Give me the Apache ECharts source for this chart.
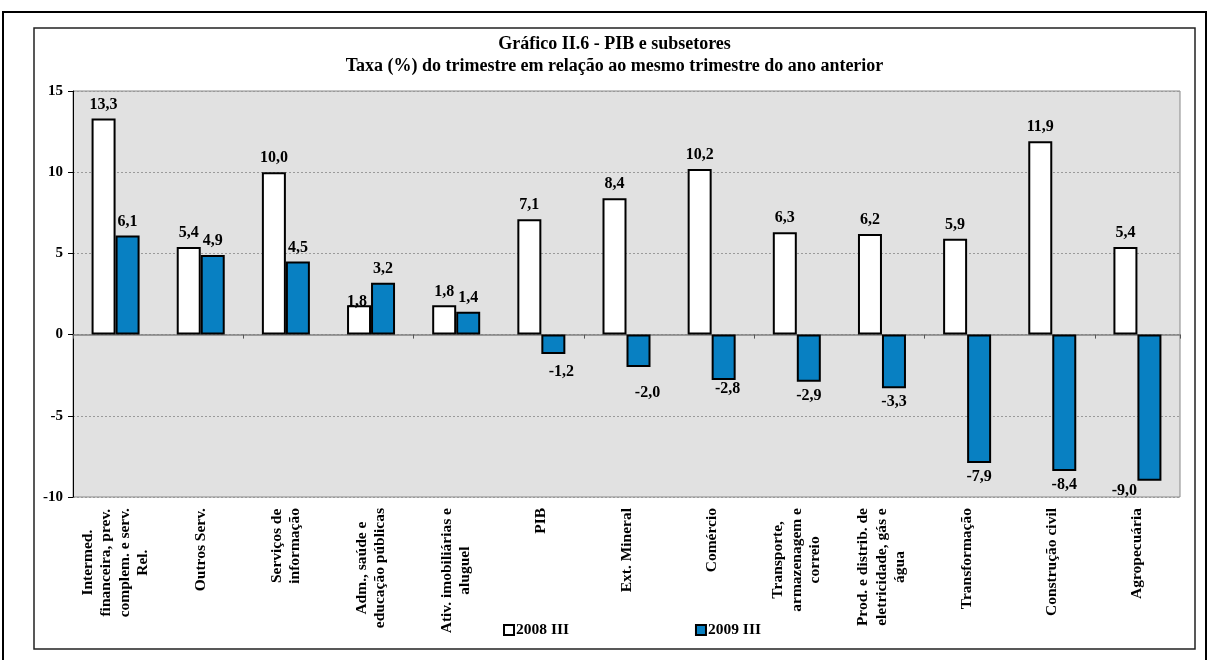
<!DOCTYPE html>
<html>
<head>
<meta charset="utf-8">
<script src="https://cdn.jsdelivr.net/npm/echarts@6/dist/echarts.min.js"></script>
<style>
  html, body { margin: 0; padding: 0; background: #ffffff; }
  #chart { width: 1210px; height: 660px; }
</style>
</head>
<body>
<div id="chart"></div>
<script>
// Sectors, in the order they are shown
const categories = [
  'Intermed.\nfinanceira, prev.\ncomplem. e serv.\nRel.',
  'Outros Serv.',
  'Serviços de\ninformação',
  'Adm., saúde e\neducação públicas',
  'Ativ. imobiliárias e\naluguel',
  'PIB',
  'Ext. Mineral',
  'Comércio',
  'Transporte,\narmazenagem e\ncorreio',
  'Prod. e distrib. de\neletricidade, gás e\nágua',
  'Transformação',
  'Construção civil',
  'Agropecuária'
];

// Growth rate (%) vs. same quarter of the previous year
const values2008III = [13.3, 5.4, 10.0, 1.8, 1.8, 7.1, 8.4, 10.2, 6.3, 6.2, 5.9, 11.9, 5.4];
const values2009III = [6.1, 4.9, 4.5, 3.2, 1.4, -1.2, -2.0, -2.8, -2.9, -3.3, -7.9, -8.4, -9.0];

const seriesNames = ['2008 III', '2009 III'];
const yTickValues = [-10, -5, 0, 5, 10, 15];
const titleLines = [
  'Gráfico II.6 - PIB e subsetores',
  'Taxa (%) do trimestre em relação ao mesmo trimestre do ano anterior'
];

const FONT = '"Liberation Serif", "Times New Roman", serif';
const BLUE = '#0880c2';

// Hand-placed label nudges [dx, dy] by category index
const nudge2008 = { 3: [-2, 10] };
const nudge2009 = { 5: [8, 4], 6: [9, 12], 7: [4, -5], 12: [-25, -4] };

function fmt(v) { return v.toFixed(1).replace('.', ','); }

function barData(values, nudges) {
  return values.map(function (v, i) {
    return {
      value: v,
      label: { position: v < 0 ? 'bottom' : 'top', offset: nudges[i] || [0, 0] }
    };
  });
}

const valueLabel = {
  show: true,
  distance: 6,
  formatter: function (p) { return fmt(p.value); },
  fontFamily: FONT,
  fontWeight: 'bold',
  fontSize: 16,
  color: '#000'
};

const chart = echarts.init(document.getElementById('chart'), null, { renderer: 'canvas' });

chart.setOption({
  backgroundColor: '#ffffff',
  animation: false,
  graphic: [
    { type: 'rect', shape: { x: 3, y: 12, width: 1203, height: 700 },
      style: { fill: 'none', stroke: '#000', lineWidth: 2 }, silent: true },
    { type: 'rect', shape: { x: 34, y: 28, width: 1161, height: 621 },
      style: { fill: 'none', stroke: '#222', lineWidth: 1.5 }, silent: true },
    { type: 'text', x: 614.5, y: 44,
      style: { text: titleLines[0], textAlign: 'center', textVerticalAlign: 'middle',
               font: 'bold 18px ' + FONT, fill: '#000' } },
    { type: 'text', x: 614.5, y: 66,
      style: { text: titleLines[1], textAlign: 'center', textVerticalAlign: 'middle',
               font: 'bold 18px ' + FONT, fill: '#000' } }
  ],
  legend: {
    data: seriesNames,
    left: 503,
    top: 622,
    padding: 0,
    icon: 'rect',
    itemWidth: 10,
    itemHeight: 10,
    itemGap: 126,
    textStyle: { fontFamily: FONT, fontWeight: 'bold', fontSize: 15.5, color: '#000', padding: [0, 0, 0, -3] }
  },
  grid: {
    left: 73, right: 30, top: 91, bottom: 163,
    show: true,
    backgroundColor: '#e1e1e1',
    borderColor: '#888',
    borderWidth: 1
  },
  xAxis: [
    {
      type: 'category',
      data: categories,
      position: 'bottom',
      axisLine: { show: false, onZero: false },
      axisTick: { show: false },
      axisLabel: {
        rotate: 90,
        interval: 0,
        margin: 11,
        fontFamily: FONT,
        fontWeight: 'bold',
        fontSize: 15.5,
        lineHeight: 18.5,
        color: '#000',
        formatter: function (v) {
          return v.split('\n').map(function (l) { return '{c|' + l + '}'; }).join('\n');
        },
        rich: {
          c: { align: 'center', fontFamily: FONT, fontWeight: 'bold', fontSize: 15.5, lineHeight: 18.5, color: '#000' }
        }
      }
    },
    {
      // zero line with category boundary ticks
      type: 'category',
      data: categories,
      position: 'top',
      axisLine: { show: true, onZero: true, lineStyle: { color: '#808080', width: 1.5 } },
      axisTick: { show: true, inside: true, length: 4, lineStyle: { color: '#555', width: 1 } },
      axisLabel: { show: false },
      splitLine: { show: false }
    }
  ],
  yAxis: {
    type: 'value',
    min: yTickValues[0],
    max: yTickValues[yTickValues.length - 1],
    interval: yTickValues[1] - yTickValues[0],
    axisLine: { show: true, onZero: false, lineStyle: { color: '#000', width: 1 } },
    axisTick: { show: true, length: 5, lineStyle: { color: '#000' } },
    axisLabel: {
      margin: 10,
      fontFamily: FONT,
      fontWeight: 'bold',
      fontSize: 15,
      color: '#000'
    },
    splitLine: { show: true, lineStyle: { color: '#9a9a9a', width: 1, type: [2, 2] } }
  },
  series: [
    {
      name: seriesNames[0],
      type: 'bar',
      xAxisIndex: 0,
      data: barData(values2008III, nudge2008),
      barWidth: 24,
      barGap: '0%',
      itemStyle: { color: '#ffffff', borderColor: '#000', borderWidth: 2 },
      label: valueLabel
    },
    {
      name: seriesNames[1],
      type: 'bar',
      xAxisIndex: 0,
      data: barData(values2009III, nudge2009),
      barWidth: 24,
      barGap: '0%',
      itemStyle: { color: BLUE, borderColor: '#000', borderWidth: 2 },
      label: valueLabel
    }
  ]
});
</script>
</body>
</html>
